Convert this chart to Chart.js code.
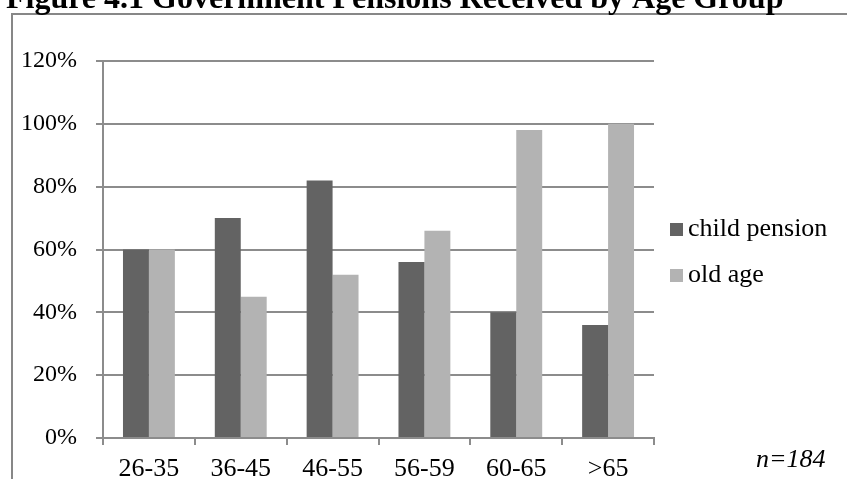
<!DOCTYPE html>
<html>
<head>
<meta charset="utf-8">
<script src="https://cdn.jsdelivr.net/npm/chart.js@4/dist/chart.umd.min.js"></script>
<style>
  html, body { margin: 0; padding: 0; background: #fff; overflow: hidden; }
  #wrap { position: relative; width: 847px; height: 479px; }
</style>
</head>
<body>
<div id="wrap"><canvas id="c" width="847" height="479"></canvas></div>
<script>
// Share of respondents receiving each government pension, by age group (%)
const ageGroups = ['26-35', '36-45', '46-55', '56-59', '60-65', '>65'];
const childPension = [60, 70, 82, 56, 40, 36];
const oldAge = [60, 45, 52, 66, 98, 100];
const seriesNames = ['child pension', 'old age'];
const yTickValues = [0, 20, 40, 60, 80, 100, 120];
const titleText = 'Figure 4.1 Government Pensions Received by Age Group';
const sampleNote = 'n=184';

const DARK = '#636363';
const LIGHT = '#b3b3b3';
const GRID = '#8c8c8c';
const SERIF = '"Liberation Serif", "Times New Roman", serif';

// Frame, heading, legend and sample-size note around the plot
const decorations = {
  id: 'decorations',
  beforeDraw(chart) {
    const ctx = chart.ctx;
    ctx.save();
    ctx.fillStyle = '#fff';
    ctx.fillRect(0, 0, chart.width, chart.height);
    ctx.strokeStyle = '#878787';
    ctx.lineWidth = 2;
    ctx.strokeRect(12, 14, 1000, 700);
    ctx.restore();
  },
  afterDraw(chart) {
    const ctx = chart.ctx;
    ctx.save();
    ctx.fillStyle = '#000';
    ctx.textAlign = 'left';
    ctx.textBaseline = 'alphabetic';
    ctx.font = 'bold 32px ' + SERIF;
    ctx.fillText(titleText, 6, 8);

    const colors = [DARK, LIGHT];
    const rows = [229, 275];
    ctx.font = '26px ' + SERIF;
    ctx.textBaseline = 'middle';
    seriesNames.forEach((name, i) => {
      ctx.fillStyle = colors[i];
      ctx.fillRect(670, rows[i] - 6, 13, 13);
      ctx.fillStyle = '#000';
      ctx.fillText(name, 688, rows[i]);
    });

    ctx.font = 'italic 26px ' + SERIF;
    ctx.textBaseline = 'alphabetic';
    ctx.fillText(sampleNote, 756, 467);
    ctx.restore();
  }
};

new Chart(document.getElementById('c'), {
  type: 'bar',
  data: {
    labels: ageGroups,
    datasets: [
      { label: seriesNames[0], data: childPension, backgroundColor: DARK, borderWidth: 0 },
      { label: seriesNames[1], data: oldAge, backgroundColor: LIGHT, borderWidth: 0 }
    ]
  },
  options: {
    responsive: false,
    devicePixelRatio: 1,
    animation: false,
    layout: { padding: { left: 0, top: 61, right: 193, bottom: 0 } },
    datasets: { bar: { categoryPercentage: 0.565, barPercentage: 1.0 } },
    plugins: {
      legend: { display: false },
      title: { display: false },
      tooltip: { enabled: false }
    },
    scales: {
      x: {
        grid: {
          display: true,
          offset: true,
          drawOnChartArea: false,
          drawTicks: true,
          tickLength: 7,
          color: GRID,
          lineWidth: 2
        },
        border: { display: true, color: GRID, width: 2 },
        ticks: {
          color: '#000',
          font: { family: SERIF, size: 26 },
          padding: 9,
          maxRotation: 0,
          autoSkip: false
        },
        afterFit(scale) { scale.height = 41; }
      },
      y: {
        min: 0,
        max: 120,
        afterBuildTicks(scale) { scale.ticks = yTickValues.map(v => ({ value: v })); },
        grid: {
          color: GRID,
          lineWidth: 2,
          drawTicks: true,
          tickLength: 7
        },
        border: { display: true, color: GRID, width: 2 },
        ticks: {
          color: '#000',
          font: { family: SERIF, size: 24 },
          padding: 19,
          callback: v => v + '%'
        },
        afterFit(scale) { scale.width = 103; }
      }
    }
  },
  plugins: [decorations]
});
</script>
</body>
</html>
